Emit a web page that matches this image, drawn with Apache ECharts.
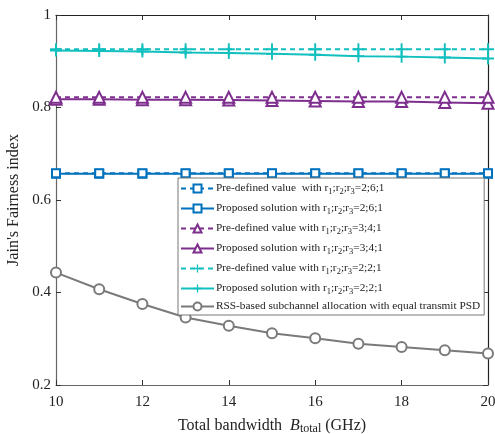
<!DOCTYPE html>
<html>
<head>
<meta charset="utf-8">
<script src="https://cdn.jsdelivr.net/npm/echarts@6/dist/echarts.min.js"></script>
<style>
html,body{margin:0;padding:0;background:#fff;}
#chart{width:495px;height:434px;}
</style>
</head>
<body>
<div id="chart"></div>
<script>
// Total bandwidth (GHz)
const bandwidth = [10, 11, 12, 13, 14, 15, 16, 17, 18, 19, 20];
// Jain's fairness index per scheme
const predef261 = [0.658, 0.658, 0.658, 0.658, 0.658, 0.658, 0.658, 0.658, 0.658, 0.658, 0.658];
const prop261   = [0.657, 0.657, 0.657, 0.657, 0.657, 0.657, 0.657, 0.657, 0.657, 0.657, 0.657];
const predef341 = [0.822, 0.822, 0.822, 0.822, 0.822, 0.822, 0.822, 0.822, 0.822, 0.822, 0.822];
const prop341   = [0.818, 0.818, 0.817, 0.817, 0.816, 0.815, 0.814, 0.813, 0.813, 0.811, 0.809];
const predef221 = [0.926, 0.926, 0.926, 0.926, 0.926, 0.926, 0.926, 0.926, 0.926, 0.926, 0.926];
const prop221   = [0.923, 0.922, 0.921, 0.919, 0.918, 0.916, 0.914, 0.911, 0.910, 0.908, 0.906];
const rssEqual  = [0.443, 0.407, 0.375, 0.346, 0.328, 0.312, 0.301, 0.289, 0.282, 0.275, 0.268];

const seriesNames = [
  'Pre-defined value  with r1;r2;r3=2;6;1',
  'Proposed solution with r1;r2;r3=2;6;1',
  'Pre-defined value with r1;r2;r3=3;4;1',
  'Proposed solution with r1;r2;r3=3;4;1',
  'Pre-defined value with r1;r2;r3=2;2;1',
  'Proposed solution with r1;r2;r3=2;2;1',
  'RSS-based subchannel allocation with equal transmit PSD'
];

const BLUE = '#0072BD', PURPLE = '#7E2F8E', CYAN = '#12BFBF', GRAY = '#7a7a7a';
const PLUS = 'path://M4.2,0H5.8V4.2H10V5.8H5.8V10H4.2V5.8H0V4.2H4.2Z';

function pairs(ys) { return bandwidth.map((x, i) => [x, ys[i]]); }

function mk(name, ys, color, dashed, symbol, size) {
  return {
    name, type: 'line', data: pairs(ys),
    symbol, symbolSize: size, showAllSymbol: true,
    lineStyle: { color, width: 2, type: dashed ? [5, 4] : 'solid' },
    itemStyle: { color, borderColor: color, borderWidth: symbol === PLUS ? 0 : 1.6 },
    emphasis: { disabled: true },
    animation: false, z: dashed ? 3 : 2
  };
}

// Legend text: turns "r1;r2;r3" into r with subscripts
function legendFmt(name) {
  const m = name.match(/^(.*?r)1;r2;r3(=.*)$/);
  if (!m) return '{n|' + name + '}';
  return '{n|' + m[1] + '}{s|1}{n|;r}{s|2}{n|;r}{s|3}{n|' + m[2] + '}';
}

const chart = echarts.init(document.getElementById('chart'), null, { renderer: 'canvas' });
const FONT = 'Liberation Serif';
const axisCommon = {
  type: 'value', splitLine: { show: false },
  axisTick: { inside: true, length: 5, lineStyle: { color: '#333' } },
  axisLabel: { fontFamily: FONT, fontSize: 15, color: '#222' }
};

chart.setOption({
  backgroundColor: '#fff',
  animation: false,
  grid: { left: 56, right: 7, top: 15, bottom: 49, containLabel: false, outerBoundsMode: 'none' },
  xAxis: [
    Object.assign({}, axisCommon, {
      min: 10, max: 20, interval: 2, position: 'bottom',
      axisLine: { lineStyle: { color: '#666', width: 1.2 } },
      axisLabel: { fontFamily: FONT, fontSize: 15, color: '#222', margin: 10 },
      name: '{n|Total bandwidth  }{i|B}{s|total}{n| (GHz)}',
      nameLocation: 'middle', nameGap: 30,
      nameTextStyle: {
        rich: {
          n: { fontFamily: FONT, fontSize: 16, color: '#222', lineHeight: 18 },
          i: { fontFamily: FONT, fontSize: 16, fontStyle: 'italic', color: '#222', lineHeight: 18 },
          s: { fontFamily: FONT, fontSize: 12, color: '#222', lineHeight: 18, verticalAlign: 'bottom', padding: [8, 0, 0, 0] }
        }
      }
    }),
    Object.assign({}, axisCommon, {
      min: 10, max: 20, interval: 2, position: 'top',
      axisLine: { lineStyle: { color: '#222', width: 1.2 } },
      axisLabel: { show: false }
    })
  ],
  yAxis: [
    Object.assign({}, axisCommon, {
      min: 0.2, max: 1, interval: 0.2, position: 'left',
      axisLine: { show: true, lineStyle: { color: '#666', width: 1.2 } },
      axisLabel: { fontFamily: FONT, fontSize: 15, color: '#222', margin: 5,
        formatter: v => (Math.abs(v - 1) < 1e-9 ? '1' : v.toFixed(1)) },
      name: "Jain's Fairness index", nameLocation: 'middle', nameGap: 31, nameRotate: 90,
      nameTextStyle: { fontFamily: FONT, fontSize: 16, color: '#222' }
    }),
    Object.assign({}, axisCommon, {
      min: 0.2, max: 1, interval: 0.2, position: 'right',
      axisLine: { show: true, lineStyle: { color: '#222', width: 1.2 } },
      axisLabel: { show: false }
    })
  ],
  legend: {
    data: seriesNames,
    orient: 'vertical', left: 178, top: 178,
    backgroundColor: '#fff', borderColor: '#777', borderWidth: 1,
    padding: [3, 4, 3, 2], itemGap: 5, itemWidth: 33, itemHeight: 10,
    formatter: legendFmt,
    textStyle: {
      fontFamily: FONT, fontSize: 11.3, color: '#222', padding: [0, 0, 0, -3],
      rich: {
        n: { fontFamily: FONT, fontSize: 11.3, color: '#222', lineHeight: 15 },
        s: { fontFamily: FONT, fontSize: 8.5, color: '#222', lineHeight: 15, verticalAlign: 'bottom', padding: [6, 0, 0, 0] }
      }
    },
    selectedMode: false
  },
  series: [
    mk(seriesNames[6], rssEqual, GRAY, false, 'emptyCircle', 10),
    mk(seriesNames[1], prop261, BLUE, false, 'emptyRect', 8),
    mk(seriesNames[0], predef261, BLUE, true, 'emptyRect', 8),
    mk(seriesNames[3], prop341, PURPLE, false, 'emptyTriangle', 11),
    mk(seriesNames[2], predef341, PURPLE, true, 'emptyTriangle', 11),
    mk(seriesNames[5], prop221, CYAN, false, PLUS, 12),
    mk(seriesNames[4], predef221, CYAN, true, PLUS, 12)
  ]
});
</script>
</body>
</html>
